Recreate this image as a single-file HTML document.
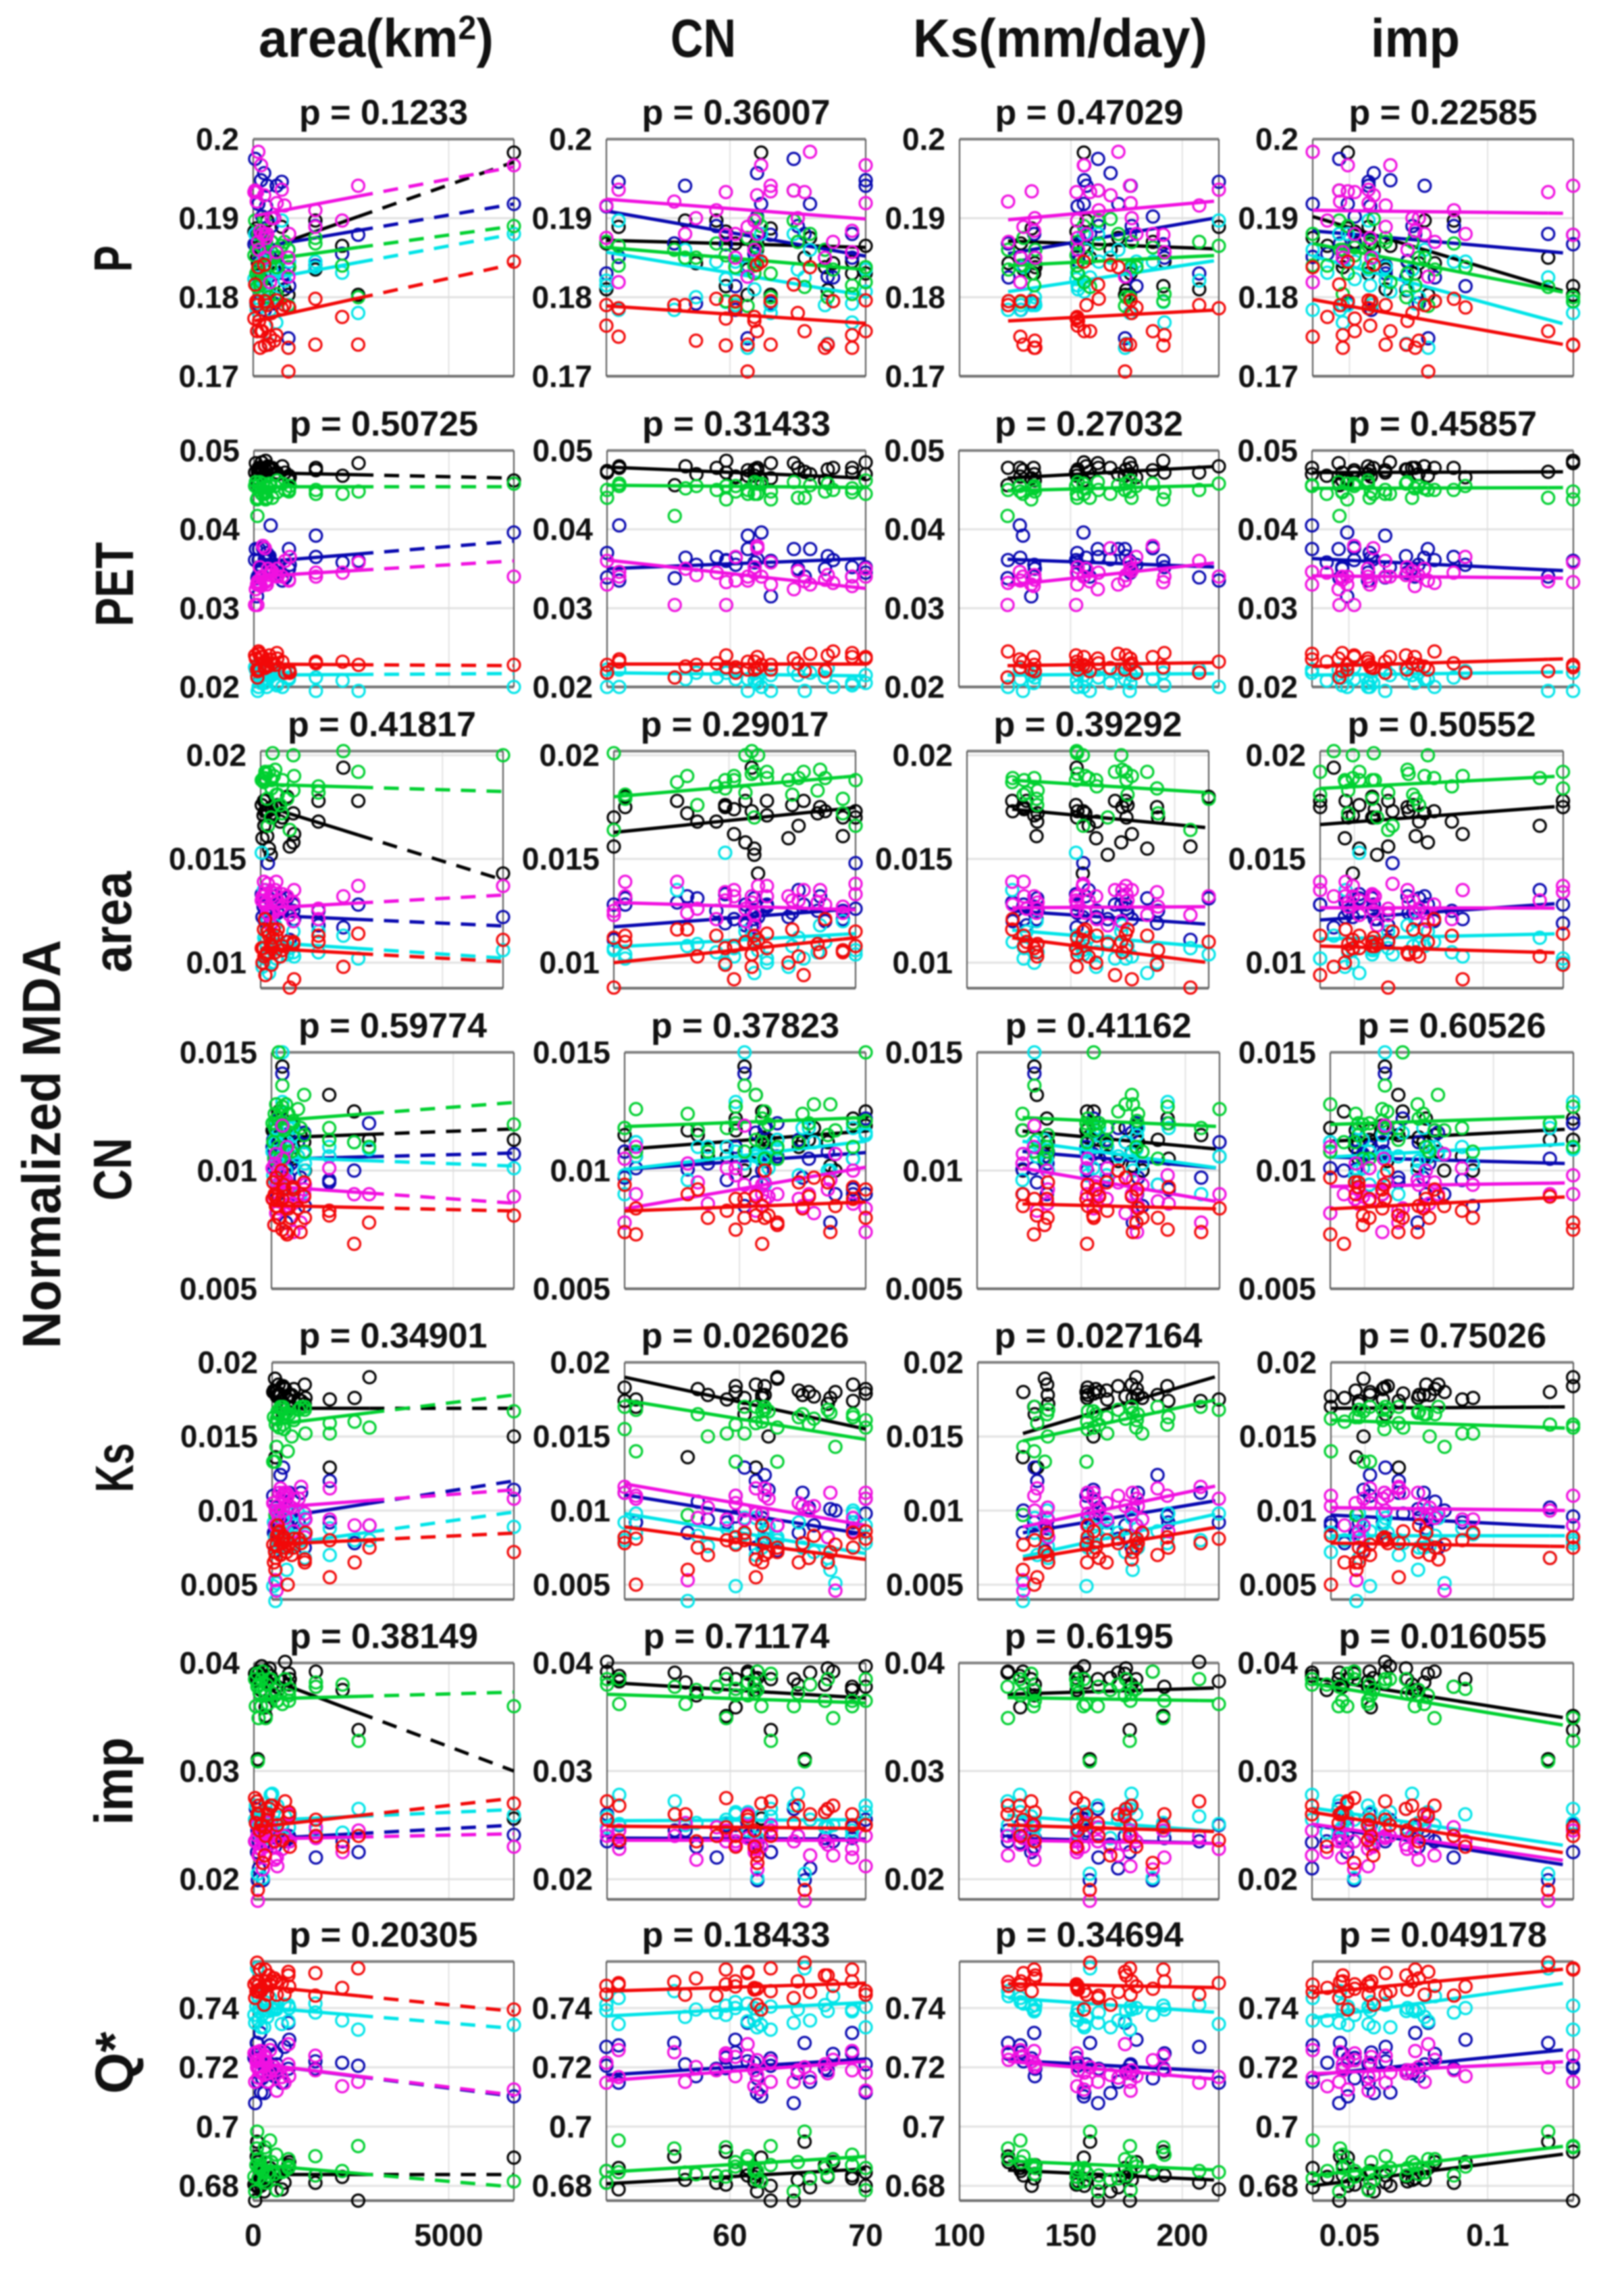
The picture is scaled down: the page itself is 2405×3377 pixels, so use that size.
<!DOCTYPE html>
<html lang="en">
<head>
<meta charset="utf-8">
<title>Normalized MDA scatter matrix</title>
<style>
html,body{margin:0;padding:0;background:#fff;}
svg{display:block;filter:blur(1px);font-family:"Liberation Sans",sans-serif;}
text{font-weight:bold;fill:#111;}
</style>
</head>
<body>
<svg id="chart" xmlns="http://www.w3.org/2000/svg" width="2405" height="3377" viewBox="0 0 2405 3377">
<rect width="2405" height="3377" fill="#fff"/>
<text x="383" y="84" font-size="80" textLength="348" lengthAdjust="spacingAndGlyphs" fill="#000">area(km<tspan dy="-26" font-size="50">2</tspan><tspan dy="26">)</tspan></text>
<text x="993" y="84" font-size="80" textLength="97" lengthAdjust="spacingAndGlyphs">CN</text>
<text x="1352" y="84" font-size="80" textLength="436" lengthAdjust="spacingAndGlyphs">Ks(mm/day)</text>
<text x="2030" y="84" font-size="80" textLength="132" lengthAdjust="spacingAndGlyphs">imp</text>
<text transform="translate(89,1694) rotate(-90)" text-anchor="middle" font-size="80" textLength="605" lengthAdjust="spacingAndGlyphs">Normalized MDA</text>
<text transform="translate(195,383) rotate(-90)" text-anchor="middle" font-size="80" textLength="39" lengthAdjust="spacingAndGlyphs">P</text>
<text transform="translate(197,865) rotate(-90)" text-anchor="middle" font-size="80" textLength="125" lengthAdjust="spacingAndGlyphs">PET</text>
<text transform="translate(194,1365) rotate(-90)" text-anchor="middle" font-size="80" textLength="150" lengthAdjust="spacingAndGlyphs">area</text>
<text transform="translate(194,1731) rotate(-90)" text-anchor="middle" font-size="80" textLength="93" lengthAdjust="spacingAndGlyphs">CN</text>
<text transform="translate(197,2173) rotate(-90)" text-anchor="middle" font-size="80" textLength="73" lengthAdjust="spacingAndGlyphs">Ks</text>
<text transform="translate(196,2637) rotate(-90)" text-anchor="middle" font-size="80" textLength="130" lengthAdjust="spacingAndGlyphs">imp</text>
<text transform="translate(197,3054) rotate(-90)" text-anchor="middle" font-size="80" textLength="92" lengthAdjust="spacingAndGlyphs">Q*</text>
<g id="panels"></g>
</svg>
<script>
// ---- catchment predictors (x values, one array per column) ----
const xArea=[90,120,430,300,1590,80,180,540,900,30,2275,330,150,6667,200,360,100,50,1590,280,130,900,400,2685,600,470,920,230,300,590,800,730];
const xCN=[55.9,67.6,51.8,60.4,61.3,63,69,57.5,67,59.7,61.8,50.9,61.8,62.3,70,56.7,65.5,64.7,59,62,65.9,61.3,67.2,63,70,65,60.4,62,59.7,69,50.9,51.8];
const xKs=[121.8,122,127.3,127.5,128.7,132.4,133.5,133.8,134,152.5,152.8,153,153.2,155.8,156,157,158.6,162.2,162.5,167.8,171.3,174.3,174.8,176.5,176.8,177.3,179.4,186.8,191.5,192,207.6,216.4];
const xImp=[.0466,.0809,.0367,.0579,.0631,.0494,.0738,.0751,.0476,.0519,.042,.0575,.071,.0494,.0648,.0772,.1219,.0463,.0878,.0588,.0367,.0785,.0706,.1309,.0569,.0728,.092,.0519,.1309,.0476,.0631,.0569];

// ---- normalized MDA per row and series ----
const P_black=[.1868,.1843,.1851,.1868,.1835,.1887,.183,.1843,.1838,.1883,.1865,.1868,.1845,.1983,.1865,.1897,.185,.1935,.1897,.186,.1875,.1803,.1809,.1803,.183,.187,.1838,.187,.1814,.1845,.181,.1889];
const P_blue=[.1868,.1825,.1851,.1784,.184,.1792,.188,.1792,.186,.1867,.1855,.1915,.1846,.1918,.1948,.1941,.188,.1975,.189,.1957,.1918,.1748,.1826,.1879,.1941,.189,.1814,.1902,.1867,.185,.183,.1946];
const P_magenta=[.1921,.187,.1819,.185,.1889,.1934,.1884,.19,.185,.1933,.1897,.1875,.186,.1967,.1967,.188,.1933,.1935,.191,.1929,.1984,.1826,.174,.1941,.1919,.19,.188,.188,.1879,.1857,.1916,.1936];
const P_green=[.186,.1835,.184,.1794,.1875,.183,.1815,.185,.186,.1853,.184,.187,.183,.189,.1819,.185,.1813,.1897,.1868,.1899,.188,.1789,.18,.18,.1838,.187,.1838,.1863,.1795,.1804,.187,.1865];
const P_cyan=[.1784,.1795,.1784,.179,.1838,.179,.1792,.18,.179,.1823,.1831,.1815,.181,.188,.1807,.186,.1825,.188,.1845,.185,.186,.1736,.1741,.178,.1835,.1835,.1845,.1845,.1794,.1768,.1821,.1897];
const P_red=[.179,.1795,.175,.1795,.174,.1795,.1736,.1745,.1736,.1773,.1775,.1764,.177,.1845,.1757,.179,.1757,.1816,.1798,.1841,.1838,.1706,.174,.174,.1796,.178,.1787,.1757,.1739,.1752,.179,.1786];

const PET_black=[.0456,.0478,.0478,.0467,.0475,.0465,.0478,.047,.0462,.0472,.0468,.0474,.0476,.0462,.0485,.048,.0473,.0484,.0478,.0478,.047,.0468,.0476,.0484,.047,.0478,.0466,.0475,.0487,.0472,.0472,.048];
const PET_blue=[.0338,.0361,.0405,.0364,.0392,.0315,.034,.0355,.035,.0361,.0358,.037,.0345,.0396,.0352,.0364,.034,.0375,.0365,.0362,.0375,.0375,.0366,.036,.0345,.035,.0355,.0376,.036,.0352,.0339,.0335];
const PET_magenta=[.0304,.0332,.0346,.0335,.034,.033,.0328,.0342,.0336,.0304,.0345,.033,.0352,.034,.034,.035,.0334,.0324,.0345,.0376,.033,.0335,.0342,.0358,.035,.0347,.0365,.0379,.0333,.034,.036,.034];
const PET_green=[.0417,.045,.0455,.0448,.0445,.0438,.0452,.0455,.0448,.0455,.0445,.044,.046,.0458,.0445,.0452,.044,.046,.045,.0445,.0456,.045,.0458,.0448,.0462,.044,.0455,.0458,.0438,.0447,.045,.0458];
const PET_cyan=[.0212,.02,.0222,.021,.0195,.0215,.0205,.0218,.0212,.0225,.0208,.02,.0217,.02,.0215,.021,.0195,.0222,.0212,.0205,.0218,.021,.0224,.0195,.0205,.0215,.022,.021,.0218,.0202,.0222,.02];
const PET_red=[.0212,.0245,.0235,.0225,.0232,.0222,.0238,.0228,.022,.024,.0232,.0228,.0222,.0228,.0238,.0226,.022,.0236,.023,.0224,.0242,.0222,.024,.0228,.0236,.023,.0218,.0238,.0225,.0243,.0218,.0232];

const AREA_black=[.0178,.0173,.0175,.0174,.0178,.0171,.0161,.0168,.0172,.0176,.0194,.017,.0173,.0143,.0173,.0172,.0166,.016,.0168,.0152,.0178,.0158,.0175,.0178,.017,.0176,.0162,.0155,.0175,.017,.0156,.018];
const AREA_blue=[.0129,.012,.0128,.0121,.0118,.0127,.0121,.0131,.0125,.0133,.0117,.0128,.0124,.0122,.0148,.0132,.0135,.0122,.0125,.0121,.0128,.0128,.0132,.0128,.0126,.0124,.0121,.0131,.0119,.0125,.0111,.0131];
const AREA_magenta=[.0139,.0128,.0139,.0132,.0126,.0132,.0124,.0126,.0129,.013,.0132,.0125,.0129,.0137,.0138,.0124,.013,.0132,.0121,.0118,.0135,.012,.0135,.0137,.0133,.013,.0135,.0123,.0134,.0127,.0123,.0132];
const AREA_green=[.0187,.0189,.0181,.0188,.0182,.0189,.0179,.0176,.0183,.0188,.0202,.0201,.0191,.02,.0166,.019,.0189,.0188,.0185,.017,.0192,.02,.0193,.0192,.0188,.0181,.019,.0192,.0184,.0172,.0164,.0179];
const AREA_cyan=[.0135,.011,.0102,.0107,.0115,.01,.012,.0109,.0105,.0153,.0113,.0106,.0104,.0106,.0104,.0108,.0112,.0098,.0105,.011,.0102,.0115,.0118,.0102,.0106,.0108,.0103,.0095,.01,.0106,.0107,.0104];
const AREA_red=[.0116,.0121,.0113,.0108,.011,.0107,.0105,.0103,.0109,.0107,.0098,.0112,.0104,.0111,.0115,.0116,.0103,.01,.0113,.0109,.0094,.011,.0105,.0114,.0108,.0116,.0092,.0113,.0099,.0106,.0088,.011];

const CN_black=[.0117,.01,.0108,.0144,.0132,.0105,.0122,.0106,.0112,.0117,.0125,.0108,.0114,.0113,.0125,.0115,.0113,.011,.0106,.0104,.0118,.0108,.0102,.0113,.0119,.0112,.01,.0113,.0122,.0105,.0115,.0106];
const CN_blue=[.01005,.009,.0101,.0141,.0095,.0106,.009,.0103,.0108,.011,.01,.0108,.0112,.0107,.0122,.0117,.0105,.0113,.0096,.0118,.0112,.0116,.0078,.012,.009,.0097,.0085,.0094,.012,.0092,.0097,.0112];
const CN_magenta=[.0103,.0107,.011,.0119,.0083,.0077,.01,.0086,.0092,.0101,.009,.0105,.0094,.0089,.0084,.0095,.009,.0088,.0101,.0095,.0082,.009,.0096,.009,.0074,.0085,.0094,.0087,.0098,.0086,.0078,.009];
const CN_green=[.0124,.0117,.0108,.0136,.0113,.0105,.011,.0108,.0115,.012,.0112,.0118,.0122,.01195,.015,.0117,.012,.0112,.0118,.0125,.0128,.0132,.0128,.011,.0121,.0124,.0108,.0105,.0127,.012,.0118,.0126];
const CN_cyan=[.0096,.0107,.0112,.015,.0106,.0113,.0105,.011,.01,.0108,.0112,.0098,.0104,.0101,.0116,.011,.0118,.0098,.011,.0106,.0112,.0107,.01,.0109,.0115,.0118,.0103,.0094,.0129,.0118,.009,.0106];
const CN_red=[.009,.0085,.0073,.0088,.0081,.0077,.0088,.008,.0095,.0088,.0069,.0094,.0085,.0081,.008,.0092,.0089,.0095,.0083,.01,.0097,.0089,.0074,.0078,.0092,.0084,.008,.008,.0075,.0093,.0074,.0084];

const KS_black=[.0136,.018,.017,.0165,.0129,.0189,.0185,.0178,.0172,.018,.0176,.0183,.0178,.015,.0179,.0182,.018,.0181,.0175,.0184,.0177,.0185,.0176,.019,.0182,.0178,.0176,.0178,.0184,.0174,.0174,.0175];
const KS_blue=[.0085,.01,.0092,.0129,.012,.0073,.0088,.0094,.0082,.011,.0078,.0112,.0095,.0114,.0098,.0106,.0102,.0085,.0092,.0081,.009,.0075,.0101,.009,.0108,.0112,.0085,.0124,.0096,.0092,.0112,.0092];
const KS_magenta=[.0053,.0046,.011,.01,.0115,.009,.0095,.0102,.0082,.0105,.009,.0112,.0098,.0108,.0112,.0095,.01,.0105,.0094,.011,.0103,.0098,.0112,.009,.0108,.0103,.0094,.0115,.011,.0086,.0116,.0108];
const KS_green=[.0097,.0143,.014,.017,.0159,.0133,.0165,.015,.0168,.0133,.016,.0155,.0167,.0167,.0156,.0165,.0158,.0163,.0152,.0168,.0162,.017,.0166,.0156,.0161,.0165,.0152,.017,.0158,.0163,.017,.0168];
const KS_cyan=[.0039,.0051,.0085,.0095,.007,.0082,.01,.0076,.0068,.0049,.008,.0092,.0075,.0089,.0078,.0083,.0068,.0092,.0088,.0085,.0072,.0095,.006,.008,.009,.0075,.0084,.0086,.0078,.0098,.008,.0098];
const KS_red=[.006,.0077,.005,.008,.0055,.0072,.0085,.007,.0065,.0077,.0065,.0082,.009,.0072,.0086,.0075,.0068,.0065,.008,.0078,.0083,.0067,.0072,.0075,.0081,.0078,.0085,.007,.0082,.0075,.0078,.0081];

const IMP_black=[.0391,.0392,.0388,.0359,.0392,.0385,.0375,.037,.038,.039,.0375,.0392,.0385,.0256,.0397,.0382,.0311,.0385,.0378,.0386,.0391,.039,.0395,.0338,.0378,.038,.0385,.0392,.0351,.0378,.0401,.0383];
const IMP_blue=[.0245,.0235,.0234,.025,.024,.0225,.0248,.023,.0238,.0235,.0235,.026,.0242,.0241,.0255,.0245,.0199,.0265,.022,.0232,.021,.024,.0265,.0225,.025,.024,.0235,.0199,.025,.0238,.0235,.025];
const IMP_magenta=[.024,.0222,.0245,.0232,.0238,.025,.0228,.0218,.0235,.0235,.0225,.0245,.0228,.023,.024,.0252,.018,.0235,.0248,.023,.0222,.026,.0232,.0245,.0212,.024,.0235,.0209,.0245,.022,.024,.0228];
const IMP_green=[.0378,.0349,.0385,.037,.0382,.039,.036,.0375,.0365,.0385,.038,.038,.0372,.036,.0385,.0362,.0309,.036,.0378,.0375,.038,.037,.0385,.0328,.0365,.0372,.0376,.0392,.0349,.0365,.0385,.0362];
const IMP_cyan=[.0272,.025,.0278,.0262,.0245,.0258,.024,.0252,.0248,.0255,.0243,.0248,.0245,.0259,.0262,.025,.0205,.0268,.024,.0238,.0255,.0262,.0248,.0265,.0268,.0279,.026,.0201,.0252,.0245,.0258,.0251];
const IMP_red=[.026,.0268,.0268,.024,.0255,.0272,.025,.0235,.0262,.0275,.023,.0255,.0245,.027,.025,.026,.019,.0252,.024,.0222,.026,.0258,.0265,.024,.025,.0268,.023,.0215,.0248,.026,.0272,.0236];

const Q_black=[.6899,.688,.686,.685,.6835,.68,.6825,.684,.687,.6804,.683,.685,.6815,.6895,.68,.682,.6949,.675,.681,.6781,.6795,.686,.683,.675,.6845,.682,.688,.684,.6915,.6835,.6811,.6788];
const Q_blue=[.7282,.7245,.7274,.725,.722,.723,.7316,.717,.7195,.7232,.7215,.7205,.719,.7102,.7115,.721,.7282,.7079,.7195,.7113,.7151,.735,.719,.7205,.721,.718,.7293,.7163,.7197,.7247,.7269,.7148];
const Q_magenta=[.7251,.7225,.7258,.7235,.7239,.722,.7255,.7201,.721,.7247,.7136,.7215,.719,.7125,.7182,.7151,.72,.7151,.719,.7174,.7165,.7278,.718,.7151,.7121,.719,.717,.7224,.7239,.719,.7148,.7167];
const Q_green=[.6926,.689,.6953,.688,.69,.687,.687,.6839,.686,.6831,.685,.681,.686,.6815,.686,.6845,.6983,.6781,.6835,.682,.6825,.689,.6835,.6934,.6785,.688,.6865,.685,.693,.6905,.685,.6846];
const Q_cyan=[.7457,.744,.7434,.742,.7415,.7405,.7389,.7395,.741,.7377,.7358,.7392,.74,.7343,.7335,.737,.7534,.735,.7385,.7335,.7358,.7355,.739,.7327,.7404,.7395,.74,.7377,.7408,.7395,.7411,.7346];
const Q_red=[.7488,.7475,.7479,.749,.7518,.7457,.753,.75,.751,.748,.7468,.7475,.7462,.7395,.7457,.7445,.7553,.7434,.7442,.7411,.7454,.7522,.751,.7534,.7445,.749,.7473,.7465,.753,.749,.7446,.7484];

// ---- regression lines: [start,end] for each of the four columns ----
const P_fit_black=[.1856,.1971,.1872,.1863,.1871,.1861,.1902,.1804];
const P_fit_blue=[.1862,.1918,.1909,.1852,.1855,.1901,.1884,.1855];
const P_fit_magenta=[.1903,.1965,.1924,.1899,.1898,.1922,.191,.1906];
const P_fit_green=[.1845,.189,.1863,.1835,.184,.1853,.1868,.1804];
const P_fit_cyan=[.182,.188,.1857,.1802,.1807,.1847,.1852,.1763];
const P_fit_red=[.177,.1842,.1789,.1767,.177,.1784,.1797,.1738];

const PET_fit_black=[.0472,.0465,.0479,.0465,.0465,.048,.0472,.0473];
const PET_fit_blue=[.0358,.0385,.035,.0363,.0362,.0352,.0363,.0347];
const PET_fit_magenta=[.034,.036,.0361,.0325,.0329,.0358,.0341,.0338];
const PET_fit_green=[.0454,.0454,.0456,.0453,.0449,.0456,.0452,.0453];
const PET_fit_cyan=[.0215,.0217,.0218,.0214,.0215,.0217,.0215,.0219];
const PET_fit_red=[.0229,.0227,.0229,.0229,.0227,.0231,.0226,.0236];

const AREA_fit_black=[.0176,.01399,.01628,.01748,.0174,.0165,.01666,.01755];
const AREA_fit_blue=[.0123,.01177,.01173,.0126,.0125,.01185,.01206,.01287];
const AREA_fit_magenta=[.01262,.01326,.0129,.01255,.01265,.0127,.01265,.01263];
const AREA_fit_green=[.0186,.01825,.018,.019,.0188,.0182,.0184,.019];
const AREA_fit_cyan=[.011,.01022,.01076,.0114,.01157,.01076,.01114,.0114];
const AREA_fit_red=[.0107,.01005,.01,.0112,.0112,.01,.0108,.01047];

const CN_fit_black=[.01138,.01176,.0109,.01167,.01167,.0109,.01124,.01176];
const CN_fit_blue=[.01048,.01074,.01005,.01076,.01081,.0101,.01057,.01029];
const CN_fit_magenta=[.00933,.00862,.00838,.01014,.0101,.00867,.00933,.00948];
const CN_fit_green=[.0121,.01288,.01186,.01224,.01224,.01186,.01195,.01229];
const CN_fit_cyan=[.01057,.01019,.01005,.01124,.01124,.0101,.01057,.01114];
const CN_fit_red=[.00852,.00829,.00829,.00867,.00859,.00838,.00838,.0089];

const KS_fit_black=[.0169,.0169,.019,.0155,.0152,.0191,.0169,.017];
const KS_fit_blue=[.00947,.012,.01106,.0084,.0085,.0107,.0097,.00886];
const KS_fit_magenta=[.0102,.0114,.0118,.009,.0089,.0117,.0102,.01];
const KS_fit_green=[.0158,.0178,.01745,.0148,.0147,.01752,.0161,.01555];
const KS_fit_cyan=[.00764,.0099,.0098,.0071,.0069,.0098,.0083,.0083];
const KS_fit_red=[.00772,.00848,.0089,.0067,.0067,.0089,.0078,.00757];

const IMP_fit_black=[.039,.03,.0382,.03675,.0371,.0377,.0386,.0348];
const IMP_fit_blue=[.0237,.025,.0238,.0237,.0238,.0233,.025,.0212];
const IMP_fit_magenta=[.0237,.0242,.0236,.0236,.0236,.0233,.0251,.0216];
const IMP_fit_green=[.03665,.0373,.0371,.0363,.0368,.0365,.0381,.0341];
const IMP_fit_cyan=[.0254,.02644,.0254,.0255,.0259,.0244,.0266,.023];
const IMP_fit_red=[.0248,.0275,.0249,.0247,.025,.0244,.0262,.0223];

const Q_fit_black=[.6838,.6838,.6807,.6857,.6853,.6819,.68,.6911];
const Q_fit_blue=[.7213,.7102,.7174,.7228,.7224,.7186,.7174,.7262];
const Q_fit_magenta=[.7213,.7106,.7155,.722,.722,.7159,.7178,.722];
const Q_fit_green=[.6872,.6796,.6846,.6899,.6884,.6853,.6834,.6937];
const Q_fit_cyan=[.7404,.7331,.7373,.7419,.7434,.7385,.7366,.7488];
const Q_fit_red=[.7476,.7389,.7457,.7484,.7482,.7469,.745,.7534];

// ---- printed values ----
const pValues=[
 ["0.1233","0.36007","0.47029","0.22585"],
 ["0.50725","0.31433","0.27032","0.45857"],
 ["0.41817","0.29017","0.39292","0.50552"],
 ["0.59774","0.37823","0.41162","0.60526"],
 ["0.34901","0.026026","0.027164","0.75026"],
 ["0.38149","0.71174","0.6195","0.016055"],
 ["0.20305","0.18433","0.34694","0.049178"]
];
const yTickLabels=[
 ["0.17","0.18","0.19","0.2"],
 ["0.02","0.03","0.04","0.05"],
 ["0.01","0.015","0.02"],
 ["0.005","0.01","0.015"],
 ["0.005","0.01","0.015","0.02"],
 ["0.02","0.03","0.04"],
 ["0.68","0.7","0.72","0.74"]
];
const xTickLabels=[["0","5000"],["60","70"],["100","150","200"],["0.05","0.1"]];
const xGridTicks=[[5000],[60],[150,200],[.05,.1]];
const rowKeys=["p","pet","area","cn","ks","imp","q-star"];
const colKeys=["area","cn","ks","imp"];
const seriesKeys=["black","blue","cyan","green","magenta","red"];
const seriesColors=["#000000","#0808b0","#00e4e8","#00d030","#f010e0","#f20808"];

const xColumns=[xArea,xCN,xKs,xImp];
const rowPoints=[
 [P_black,P_blue,P_cyan,P_green,P_magenta,P_red],
 [PET_black,PET_blue,PET_cyan,PET_green,PET_magenta,PET_red],
 [AREA_black,AREA_blue,AREA_cyan,AREA_green,AREA_magenta,AREA_red],
 [CN_black,CN_blue,CN_cyan,CN_green,CN_magenta,CN_red],
 [KS_black,KS_blue,KS_cyan,KS_green,KS_magenta,KS_red],
 [IMP_black,IMP_blue,IMP_cyan,IMP_green,IMP_magenta,IMP_red],
 [Q_black,Q_blue,Q_cyan,Q_green,Q_magenta,Q_red]
];
const rowFits=[
 [P_fit_black,P_fit_blue,P_fit_cyan,P_fit_green,P_fit_magenta,P_fit_red],
 [PET_fit_black,PET_fit_blue,PET_fit_cyan,PET_fit_green,PET_fit_magenta,PET_fit_red],
 [AREA_fit_black,AREA_fit_blue,AREA_fit_cyan,AREA_fit_green,AREA_fit_magenta,AREA_fit_red],
 [CN_fit_black,CN_fit_blue,CN_fit_cyan,CN_fit_green,CN_fit_magenta,CN_fit_red],
 [KS_fit_black,KS_fit_blue,KS_fit_cyan,KS_fit_green,KS_fit_magenta,KS_fit_red],
 [IMP_fit_black,IMP_fit_blue,IMP_fit_cyan,IMP_fit_green,IMP_fit_magenta,IMP_fit_red],
 [Q_fit_black,Q_fit_blue,Q_fit_cyan,Q_fit_green,Q_fit_magenta,Q_fit_red]
];

// ---- axis domains and panel layout ----
const xDomains=[[0,6667],[50.9,70],[100,216.4],[.0367,.131]];
const yDomains=[[.17,.2],[.02,.05],[.00877,.0202],[.005,.015],[.004,.02],[.01813,.04],[.675,.7557]];
const rowBoxes=[[206,557],[667,1017],[1112,1463],[1558,1908],[2017,2368],[2462,2812],[2904,3258]];
const colBoxes=[
 [[375,761],[898,1282],[1421,1805],[1944,2330]],
 [[376,761],[899,1282],[1420,1805],[1943,2330]],
 [[386,745],[909,1267],[1432,1790],[1955,2315]],
 [[402,761],[925,1282],[1447,1806],[1970,2330]],
 [[403,761],[925,1282],[1448,1805],[1971,2330]],
 [[376,761],[899,1282],[1420,1805],[1943,2330]],
 [[375,761],[898,1282],[1421,1805],[1944,2330]]
];

const NS="http://www.w3.org/2000/svg";
function make(tag,attrs,parent){
  const el=document.createElementNS(NS,tag);
  for(const k in attrs){el.setAttribute(k,attrs[k]);}
  parent.appendChild(el);
  return el;
}
function scale(d,r){return v=>r[0]+(v-d[0])/(d[1]-d[0])*(r[1]-r[0]);}

const root=document.getElementById("panels");
rowBoxes.forEach((rb,r)=>{
  colBoxes[r].forEach((cb,c)=>{
    const sx=scale(xDomains[c],cb);
    const sy=scale(yDomains[r],[rb[1],rb[0]]);
    const g=make("g",{},root);
    
    

    // grid
    yTickLabels[r].forEach(lbl=>{
      const y=sy(parseFloat(lbl));
      const gl=make("line",{x1:cb[0],x2:cb[1],y1:y,y2:y,stroke:"#e2e2e2","stroke-width":3},g);
      
      
    });
    xGridTicks[c].forEach(v=>{
      const x=sx(v);
      const gl=make("line",{x1:x,x2:x,y1:rb[0],y2:rb[1],stroke:"#dcdcdc","stroke-width":1.6},g);
      
      
    });

    // frame
    const fTop=make("line",{x1:cb[0],x2:cb[1],y1:rb[0],y2:rb[0],stroke:"#808080","stroke-width":4},g);
    
    
    const fBot=make("line",{x1:cb[0],x2:cb[1],y1:rb[1],y2:rb[1],stroke:"#707070","stroke-width":4},g);
    
    
    const fL=make("line",{x1:cb[0],x2:cb[0],y1:rb[0],y2:rb[1],stroke:"#505050","stroke-width":2},g);
    
    
    const fR=make("line",{x1:cb[1],x2:cb[1],y1:rb[0],y2:rb[1],stroke:"#505050","stroke-width":2},g);
    
    

    // y tick labels
    yTickLabels[r].forEach(lbl=>{
      const t=make("text",{x:cb[0]-21,y:sy(parseFloat(lbl))+16,"text-anchor":"end","font-size":46,fill:"#222"},g);
      t.textContent=lbl;
      
      
    });

    // panel title
    const title=make("text",{x:(cb[0]+cb[1])/2,y:rb[0]-22,"text-anchor":"middle","font-size":52,fill:"#111"},g);
    title.textContent="p = "+pValues[r][c];
    
    

    // series
    const xs=xColumns[c];
    const xMin=Math.min(...xs), xMax=Math.max(...xs);
    const xSplit=Math.max(...xs.filter(v=>v<xMax));
    seriesKeys.forEach((key,s)=>{
      const ys=rowPoints[r][s];
      const color=seriesColors[s];
      const sg=make("g",{},g);
      
      
      ys.forEach((v,i)=>{
        const pt=make("circle",{cx:sx(xs[i]),cy:sy(v),r:9,fill:"none",stroke:color,"stroke-width":3.2},sg);
        
        
      });
      const y0=rowFits[r][s][c*2], y1=rowFits[r][s][c*2+1];
      const yAt=v=>y0+(y1-y0)*(v-xMin)/(xMax-xMin);
      const solid=make("line",{x1:sx(xMin),y1:sy(y0),x2:sx(xSplit),y2:sy(yAt(xSplit)),stroke:color,"stroke-width":5},sg);
      
      
      const dash=make("line",{x1:sx(xSplit),y1:sy(yAt(xSplit)),x2:sx(xMax),y2:sy(y1),stroke:color,"stroke-width":5,"stroke-dasharray":"22 16"},sg);
      
      
    });

    // x tick labels (bottom row only)
    if(r===rowBoxes.length-1){
      xTickLabels[c].forEach(lbl=>{
        const t=make("text",{x:sx(parseFloat(lbl)),y:3325,"text-anchor":"middle","font-size":46,fill:"#222"},g);
        t.textContent=lbl;
        
        
      });
    }
  });
});
</script>
</body>
</html>
